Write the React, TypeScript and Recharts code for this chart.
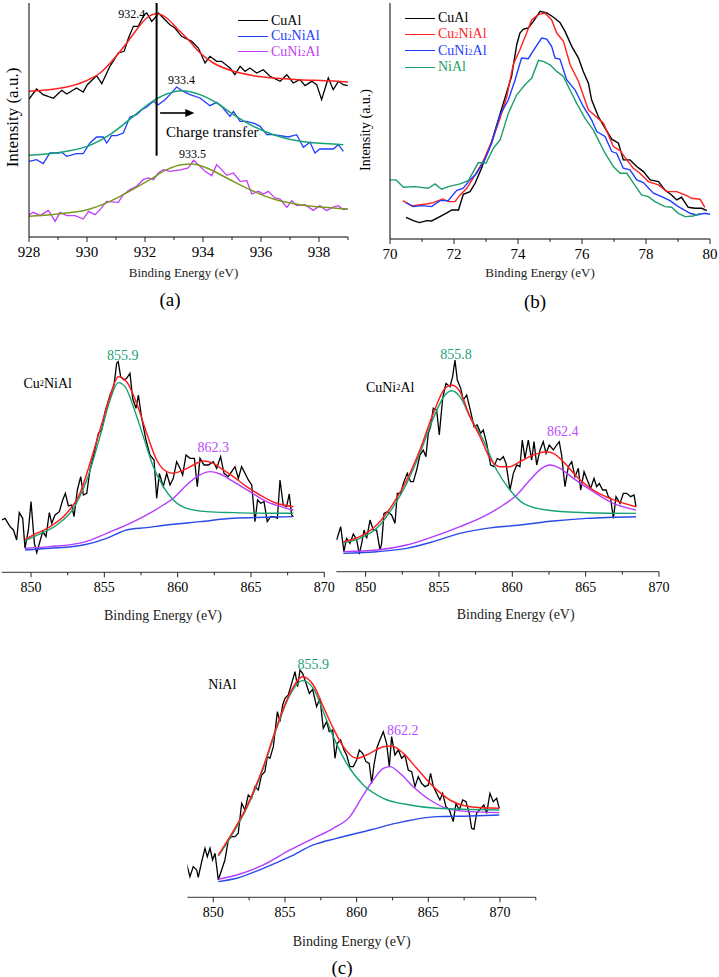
import React from 'react';
import { LineChart, Line, XAxis, YAxis, Legend, ReferenceLine, ReferenceDot } from 'recharts';

const FONT = 'Liberation Serif, Tinos, Times New Roman, DejaVu Serif, serif';

type Pt = [number, number];

// ---------- (a) Cu 2p, binding energy (eV) / intensity (a.u.) ----------
const aCuAl: Pt[] = [
  [928.0, 414], [928.26, 444], [928.49, 427], [928.84, 416], [929.13, 440], [929.3, 429], [929.64, 447],
  [929.87, 435], [930.01, 457], [930.33, 484], [930.51, 460], [930.79, 512], [931.08, 552], [931.28, 557],
  [931.43, 597], [931.6, 632], [931.77, 632], [931.97, 667], [932.06, 672], [932.23, 647], [932.34, 657],
  [932.46, 672], [932.63, 657], [932.86, 637], [933.03, 627], [933.26, 602], [933.61, 587], [933.84, 567],
  [934.07, 522], [934.24, 542], [934.47, 527], [934.64, 527], [934.93, 507], [935.1, 487], [935.28, 512],
  [935.45, 497], [935.62, 507], [935.85, 492], [936.08, 502], [936.31, 482], [936.66, 467], [936.89, 487],
  [937.11, 462], [937.34, 472], [937.52, 454], [937.75, 467], [937.92, 457], [938.09, 412], [938.32, 477],
  [938.49, 442], [938.67, 467], [938.84, 457], [938.99, 454],
];
const aCuAlFit: Pt[] = [
  [928, 437], [929.3, 450], [930, 470], [930.45, 492], [930.9, 532], [931.37, 582], [931.71, 622],
  [932.06, 657], [932.4, 670], [932.75, 657], [933.09, 627], [933.44, 597], [933.9, 552], [934.36, 522],
  [935.05, 497], [935.74, 484], [936.54, 476], [937.34, 472], [938.49, 468], [939, 465],
];
const aCu2NiAl: Pt[] = [
  [928.0, 227], [928.26, 232], [928.49, 220], [928.72, 252], [929.01, 252], [929.13, 254], [929.3, 242],
  [929.64, 250], [929.87, 250], [930.1, 282], [930.33, 300], [930.56, 300], [930.68, 282], [930.85, 304],
  [931.02, 304], [931.25, 312], [931.48, 360], [931.71, 367], [931.89, 382], [932.06, 390], [932.29, 407],
  [932.46, 397], [932.69, 412], [932.86, 427], [933.09, 450], [933.32, 437], [933.55, 427], [933.9, 417],
  [934.24, 394], [934.47, 404], [934.64, 392], [934.93, 362], [935.05, 377], [935.28, 347], [935.51, 347],
  [935.79, 340], [935.97, 332], [936.2, 307], [936.43, 307], [936.66, 304], [936.94, 300], [937.23, 307],
  [937.46, 269], [937.69, 284], [937.86, 252], [938.03, 264], [938.32, 264], [938.49, 264], [938.67, 277],
  [938.84, 257],
];
const aCu2NiAlFit: Pt[] = [
  [928, 245], [929.3, 257], [930.01, 272], [930.79, 307], [931.6, 362], [932.17, 402], [932.75, 429],
  [933.26, 439], [933.9, 427], [934.47, 402], [935.05, 367], [935.74, 332], [936.43, 307], [937.34, 287],
  [938.49, 279], [938.84, 277],
];
const aCuNi2Al: Pt[] = [
  [928.0, 67], [928.15, 74], [928.38, 64], [928.67, 80], [928.9, 47], [929.07, 74], [929.3, 64], [929.59, 64],
  [929.87, 54], [930.05, 77], [930.28, 67], [930.45, 82], [930.68, 107], [931.08, 104], [931.25, 127],
  [931.48, 142], [931.71, 152], [931.94, 172], [932.11, 177], [932.29, 172], [932.46, 192], [932.63, 202],
  [932.86, 197], [933.09, 200], [933.26, 202], [933.49, 207], [933.67, 230], [933.9, 212], [934.07, 197],
  [934.3, 184], [934.47, 217], [934.64, 202], [934.82, 185], [935.05, 192], [935.28, 167], [935.51, 169],
  [935.68, 129], [935.91, 137], [936.08, 129], [936.25, 137], [936.48, 117], [936.66, 114], [936.89, 89],
  [937.06, 109], [937.23, 94], [937.52, 97], [937.8, 80], [938.03, 94], [938.26, 79], [938.49, 90],
  [938.67, 94], [938.84, 82], [938.99, 84],
];
const aCuNi2AlFit: Pt[] = [
  [928, 62], [929.3, 72], [930.01, 82], [930.79, 107], [931.6, 144], [932.17, 172], [932.75, 202],
  [933.26, 217], [933.61, 219], [934.13, 207], [934.82, 177], [935.62, 142], [936.43, 114], [937.34, 97],
  [938.49, 87], [939, 84],
];
const aTicks = [928, 929, 930, 931, 932, 933, 934, 935, 936, 937, 938, 939];
const aSamples = ['CuAl', 'Cu2NiAl', 'CuNi2Al'];

// ---------- (b) Al 2p ----------
const bCuAl: Pt[] = [
  [70.5, 65], [70.73, 55], [70.92, 49], [71.15, 55], [71.3, 54], [71.56, 67], [71.79, 79], [71.93, 87],
  [72.14, 87], [72.29, 134], [72.5, 142], [72.66, 167], [72.86, 212], [72.97, 242], [73.18, 292],
  [73.39, 359], [73.59, 422], [73.8, 487], [73.96, 582], [74.06, 617], [74.17, 629], [74.32, 632],
  [74.48, 652], [74.69, 682], [74.9, 677], [75.1, 665], [75.31, 649], [75.47, 622], [75.68, 577],
  [75.89, 542], [76.04, 502], [76.2, 467], [76.3, 417], [76.51, 367], [76.72, 332], [76.93, 299],
  [77.14, 287], [77.29, 237], [77.5, 237], [77.71, 217], [77.92, 202], [78.13, 177], [78.39, 172],
  [78.59, 147], [78.8, 132], [78.96, 117], [79.11, 125], [79.32, 95], [79.53, 92], [79.74, 92], [79.9, 85],
];
const bCu2NiAl: Pt[] = [
  [70.4, 115], [70.68, 99], [70.89, 102], [71.15, 105], [71.35, 109], [71.65, 120], [71.82, 112],
  [72.03, 112], [72.19, 132], [72.4, 152], [72.66, 192], [72.92, 235], [73.18, 292], [73.44, 362],
  [73.65, 427], [73.85, 522], [74.06, 567], [74.27, 617], [74.43, 657], [74.64, 672], [74.84, 677],
  [75.05, 657], [75.21, 617], [75.42, 592], [75.63, 522], [75.89, 472], [76.2, 387], [76.41, 369],
  [76.67, 347], [76.98, 277], [77.19, 265], [77.4, 237], [77.6, 212], [77.81, 197], [78.07, 172],
  [78.39, 162], [78.65, 142], [78.96, 142], [79.22, 132], [79.43, 122], [79.69, 119], [79.84, 95],
];
const bCuNi2Al: Pt[] = [
  [70.5, 109], [70.73, 97], [70.99, 100], [71.3, 97], [71.56, 115], [71.82, 115], [72.08, 145],
  [72.29, 152], [72.5, 177], [72.71, 197], [72.97, 239], [73.18, 287], [73.44, 372], [73.7, 417],
  [73.91, 477], [74.11, 542], [74.32, 540], [74.53, 572], [74.74, 602], [74.9, 599], [75.05, 577],
  [75.16, 542], [75.31, 539], [75.52, 477], [75.78, 447], [76.04, 397], [76.3, 357], [76.46, 322],
  [76.72, 307], [76.93, 262], [77.08, 257], [77.29, 212], [77.5, 207], [77.71, 177], [77.92, 169],
  [78.23, 137], [78.49, 127], [78.75, 115], [79.01, 97], [79.38, 77], [79.58, 72], [79.84, 77], [80.0, 74],
];
const bNiAl: Pt[] = [
  [70.0, 177], [70.19, 177], [70.42, 155], [70.78, 157], [71.2, 152], [71.41, 165], [71.61, 149],
  [71.82, 157], [72.19, 165], [72.45, 175], [72.76, 229], [73.0, 227], [73.23, 272], [73.44, 297],
  [73.7, 377], [73.96, 432], [74.22, 462], [74.43, 482], [74.64, 535], [74.79, 532], [75.0, 522],
  [75.21, 502], [75.42, 487], [75.57, 457], [75.83, 407], [76.09, 362], [76.35, 327], [76.51, 297],
  [76.72, 257], [76.98, 217], [77.19, 197], [77.4, 197], [77.66, 160], [77.86, 132], [78.07, 127],
  [78.28, 112], [78.59, 97], [78.8, 95], [79.01, 77], [79.22, 67], [79.48, 69], [79.69, 77],
];
const bTicks = [70, 71, 72, 73, 74, 75, 76, 77, 78, 79, 80];
const bSamples = ['CuAl', 'Cu2NiAl', 'CuNi2Al', 'NiAl'];

// ---------- (c) Ni 2p, Cu2NiAl ----------
const c1Raw: Pt[] = [
  [848.0, 157], [848.23, 162], [848.57, 137], [848.8, 127], [849.02, 97], [849.2, 179], [849.43, 162],
  [849.59, 72], [849.82, 127], [850.0, 212], [850.23, 87], [850.39, 59], [850.57, 87], [850.8, 122],
  [851.02, 107], [851.25, 179], [851.41, 147], [851.64, 172], [851.93, 182], [852.16, 217], [852.34, 237],
  [852.55, 199], [852.77, 202], [852.93, 167], [853.16, 247], [853.39, 287], [853.57, 232], [853.8, 237],
  [854.02, 307], [854.3, 357], [854.59, 417], [854.82, 427], [855.05, 482], [855.39, 532], [855.66, 562],
  [855.84, 627], [855.95, 632], [856.11, 587], [856.34, 577], [856.52, 582], [856.75, 597], [856.93, 522],
  [857.16, 492], [857.32, 532], [857.55, 462], [857.84, 397], [858.11, 352], [858.39, 337], [858.57, 222],
  [858.75, 297], [859.02, 257], [859.25, 297], [859.48, 262], [859.7, 282], [859.93, 332], [860.16, 312],
  [860.34, 292], [860.57, 352], [860.84, 342], [861.14, 342], [861.34, 257], [861.52, 342], [861.8, 322],
  [862.09, 322], [862.43, 332], [862.66, 312], [862.93, 347], [863.16, 297], [863.45, 287], [863.68, 302],
  [863.91, 317], [864.14, 282], [864.36, 317], [864.59, 297], [864.82, 277], [865.05, 262], [865.27, 152],
  [865.45, 217], [865.66, 207], [865.89, 212], [866.11, 152], [866.34, 167], [866.57, 167], [866.8, 162],
  [866.98, 277], [867.2, 202], [867.43, 197], [867.61, 235], [867.77, 172], [867.89, 167],
];
const c1Env: Pt[] = [
  [849.59, 99], [850.16, 112], [851.3, 137], [852.43, 177], [853.34, 237], [854.02, 327], [854.7, 427],
  [855.39, 527], [855.95, 587], [856.52, 572], [857.2, 507], [857.89, 417], [858.57, 337], [859.25, 302],
  [859.7, 297], [860.39, 307], [861.07, 322], [861.75, 334], [862.43, 327], [863.11, 307], [863.8, 287],
  [864.7, 257], [865.61, 232], [866.75, 207], [867.89, 197],
];
const c1Main: Pt[] = [
  [849.59, 95], [850.61, 115], [851.75, 142], [852.89, 192], [853.8, 277], [854.7, 407], [855.39, 517],
  [855.95, 569], [856.41, 557], [856.98, 497], [857.66, 407], [858.34, 317], [859.02, 257], [859.7, 217],
  [860.61, 192], [861.98, 182], [863.8, 179], [866.07, 177], [867.89, 177],
];
const c1Sat: Pt[] = [
  [849.59, 72], [851.3, 77], [853.57, 90], [855.16, 117], [856.52, 142], [857.89, 172], [859.02, 202],
  [859.7, 222], [860.61, 262], [861.52, 292], [862.2, 302], [862.89, 295], [863.8, 272], [864.93, 242],
  [866.07, 212], [867.2, 195], [867.89, 187],
];
const c1Base: Pt[] = [
  [849.59, 67], [851.3, 72], [853.57, 82], [855.16, 102], [856.52, 127], [857.89, 134], [859.25, 142],
  [861.52, 152], [863.8, 162], [866.07, 165], [867.89, 167],
];

// ---------- (c) Ni 2p, CuNi2Al ----------
const c2Raw: Pt[] = [
  [848.02, 95], [848.3, 135], [848.52, 60], [848.7, 100], [848.93, 85], [849.16, 113], [849.39, 95],
  [849.57, 53], [849.73, 85], [849.89, 125], [850.07, 100], [850.3, 155], [850.52, 125], [850.75, 125],
  [850.98, 65], [851.09, 85], [851.25, 175], [851.48, 180], [851.77, 170], [852.0, 145], [852.16, 235],
  [852.39, 235], [852.57, 265], [852.84, 295], [853.07, 270], [853.25, 270], [853.48, 305], [853.7, 350],
  [853.93, 365], [854.11, 345], [854.27, 415], [854.43, 435], [854.61, 490], [854.84, 485], [855.02, 410],
  [855.25, 520], [855.48, 565], [855.75, 555], [855.93, 585], [856.09, 635], [856.25, 575], [856.48, 550],
  [856.66, 515], [856.89, 530], [857.16, 480], [857.39, 435], [857.61, 440], [857.84, 415], [858.02, 425],
  [858.25, 385], [858.52, 320], [858.75, 315], [858.98, 340], [859.16, 335], [859.39, 345], [859.57, 325],
  [859.84, 245], [860.07, 295], [860.3, 320], [860.52, 315], [860.68, 395], [860.86, 340], [861.09, 395],
  [861.32, 335], [861.48, 390], [861.66, 320], [861.89, 365], [862.11, 390], [862.3, 355], [862.52, 380],
  [862.8, 365], [863.02, 380], [863.2, 390], [863.36, 350], [863.59, 255], [863.82, 315], [864.05, 330],
  [864.27, 285], [864.5, 310], [864.66, 245], [864.89, 300], [865.11, 275], [865.34, 250], [865.57, 280],
  [865.75, 255], [865.93, 265], [866.16, 245], [866.39, 245], [866.55, 225], [866.7, 220], [866.89, 160],
  [867.07, 225], [867.34, 205], [867.57, 235], [867.8, 235], [868.07, 225], [868.3, 230], [868.43, 195],
];
const c2Env: Pt[] = [
  [848.48, 90], [849.61, 105], [850.75, 140], [851.89, 205], [852.8, 275], [853.7, 365], [854.61, 475],
  [855.41, 550], [855.86, 560], [856.43, 540], [857.11, 465], [857.8, 405], [858.48, 340], [859.16, 315],
  [859.84, 315], [860.52, 330], [861.43, 350], [862.34, 360], [862.8, 355], [863.48, 330], [864.39, 285],
  [865.52, 245], [866.66, 220], [868.43, 195],
];
const c2Main: Pt[] = [
  [848.48, 87], [849.61, 100], [850.75, 130], [851.89, 195], [852.8, 265], [853.7, 355], [854.61, 460],
  [855.41, 530], [855.86, 543], [856.43, 525], [857.11, 465], [858.02, 395], [858.93, 305], [859.84, 245],
  [860.75, 205], [862.34, 185], [865.07, 177], [868.43, 175],
];
const c2Sat: Pt[] = [
  [848.48, 60], [850.75, 65], [852.8, 80], [854.61, 105], [856.43, 135], [858.02, 165], [859.39, 200],
  [860.3, 230], [861.2, 275], [862.0, 310], [862.57, 320], [863.25, 310], [864.16, 280], [865.52, 240],
  [866.89, 205], [868.43, 185],
];
const c2Base: Pt[] = [
  [848.48, 55], [850.75, 60], [852.8, 70], [854.61, 90], [856.43, 115], [858.25, 130], [860.52, 140],
  [862.8, 152], [865.07, 160], [868.43, 165],
];

// ---------- (c) Ni 2p, NiAl ----------
const c3Raw: Pt[] = [
  [848.14, 100], [848.37, 62], [848.6, 92], [848.84, 82], [848.95, 60], [849.19, 107], [849.42, 147],
  [849.58, 122], [849.77, 147], [849.95, 112], [850.12, 132], [850.23, 94], [850.35, 52], [850.58, 82],
  [850.81, 112], [851.05, 172], [851.28, 182], [851.51, 182], [851.74, 192], [851.98, 282], [852.21, 262],
  [852.44, 307], [852.67, 297], [852.91, 332], [853.14, 322], [853.37, 367], [853.6, 377], [853.77, 422],
  [853.95, 417], [854.19, 452], [854.47, 557], [854.65, 527], [854.84, 577], [855.0, 597], [855.23, 607],
  [855.47, 642], [855.7, 677], [855.88, 632], [856.05, 682], [856.23, 672], [856.47, 642], [856.7, 612],
  [856.93, 624], [857.21, 572], [857.44, 597], [857.67, 507], [857.91, 527], [858.09, 497], [858.33, 502],
  [858.49, 417], [858.65, 462], [858.88, 472], [859.12, 442], [859.3, 427], [859.53, 392], [859.77, 392],
  [860.0, 412], [860.19, 442], [860.42, 432], [860.65, 407], [860.88, 402], [861.05, 342], [861.21, 397],
  [861.44, 452], [861.67, 477], [861.86, 497], [862.09, 462], [862.28, 392], [862.44, 482], [862.67, 427],
  [862.91, 442], [863.14, 417], [863.37, 427], [863.6, 382], [863.84, 377], [864.07, 332], [864.3, 362],
  [864.53, 342], [864.77, 332], [865.0, 337], [865.16, 372], [865.35, 332], [865.58, 312], [865.81, 292],
  [866.0, 312], [866.23, 272], [866.47, 262], [866.74, 227], [866.93, 282], [867.16, 262], [867.4, 292],
  [867.63, 287], [867.86, 252], [868.02, 207], [868.19, 204], [868.37, 252], [868.65, 267], [868.88, 277],
  [869.07, 252], [869.3, 312], [869.53, 287], [869.77, 297], [869.95, 267],
];
const c3Env: Pt[] = [
  [850.35, 127], [851.16, 182], [852.33, 272], [853.49, 392], [854.42, 512], [855.35, 612], [856.23, 662],
  [856.98, 637], [857.67, 572], [858.37, 507], [859.07, 452], [860.0, 417], [860.93, 432], [861.86, 452],
  [862.44, 454], [863.26, 432], [864.19, 387], [865.35, 332], [866.51, 292], [867.91, 272], [869.95, 267],
];
const c3Main: Pt[] = [
  [850.35, 124], [851.16, 177], [852.33, 267], [853.49, 387], [854.42, 507], [855.35, 607], [856.23, 650],
  [856.98, 627], [857.67, 557], [858.37, 482], [859.3, 402], [860.47, 337], [861.86, 297], [863.72, 277],
  [865.58, 267], [869.95, 262],
];
const c3Sat: Pt[] = [
  [850.35, 54], [851.63, 67], [853.49, 97], [855.35, 142], [856.98, 177], [858.37, 207], [859.53, 242],
  [860.47, 307], [861.16, 352], [861.86, 387], [862.33, 392], [863.02, 372], [863.95, 332], [865.12, 292],
  [866.28, 267], [867.91, 257], [869.95, 254],
];
const c3Base: Pt[] = [
  [850.35, 47], [851.63, 57], [853.49, 87], [855.35, 122], [856.98, 157], [858.6, 177], [860.93, 202],
  [863.26, 227], [865.58, 242], [867.91, 244], [869.95, 247],
];
const cTicks1 = [850, 852.5, 855, 857.5, 860, 862.5, 865, 867.5, 870];
const cTicks3 = [850, 852.5, 855, 857.5, 860, 862.5, 865, 867.5, 870, 872.5];

const RED = '#ff1f1f';
const GREEN = '#17a274';
const PURPLE = '#b43cff';
const BLUE = '#1f3dff';

const pts = (arr: Pt[]) => arr.map(([e, i]) => ({ e, i }));

// subscripts in sample names (Cu2NiAl -> Cu₂NiAl)
function chemHtml(name: string) {
  return name.split(/(\d)/).filter(Boolean).map((p, k) =>
    /\d/.test(p) ? <span key={k} style={{ fontSize: '0.6em' }}>{p}</span> : <span key={k}>{p}</span>
  );
}
function chemSvg(name: string, size: number) {
  return name.split(/(\d)/).filter(Boolean).map((p, k) =>
    /\d/.test(p) ? <tspan key={k} fontSize={size * 0.6}>{p}</tspan> : <tspan key={k}>{p}</tspan>
  );
}

function makeTick(step: number, size: number, gap: number) {
  return (props: any) => {
    const { x, y, payload } = props;
    const major = Math.abs(payload.value / step - Math.round(payload.value / step)) < 1e-6;
    return (
      <g>
        <line x1={x} y1={y} x2={x} y2={y + (major ? 5 : 3)} stroke="#222" strokeWidth={1} />
        {major && (
          <text x={x} y={y + gap} textAnchor="middle" fontSize={size} fontFamily={FONT} fill="#000">
            {payload.value}
          </text>
        )}
      </g>
    );
  };
}

const xLabel = (dx: number, base: number, size: number) => (props: any) => {
  const vb = props.viewBox;
  return (
    <text x={vb.x + vb.width / 2 + dx} y={vb.y + base} textAnchor="middle" fontSize={size} fontFamily={FONT} fill="#222">
      Binding Energy (eV)
    </text>
  );
};

const yLabel = (x: number, dy: number, size: number) => (props: any) => {
  const vb = props.viewBox;
  const cy = vb.y + vb.height / 2 + dy;
  return (
    <text x={x} y={cy} transform={`rotate(-90 ${x} ${cy})`} textAnchor="middle" dominantBaseline="central"
      fontSize={size} fontFamily={FONT} fill="#000">
      Intensity (a.u.)
    </text>
  );
};

const textShape = (text: string, size: number, color: string, anchor: string = 'middle', chem = false) =>
  (props: any) => (
    <text x={props.cx} y={props.cy} textAnchor={anchor} dominantBaseline="central" fontSize={size}
      fontFamily={FONT} fill={color}>
      {chem ? chemSvg(text, size) : text}
    </text>
  );

// only the measured series, in the order given
const legendContent = (order: string[], rowH: number) => (props: any) => {
  const items = (props.payload || [])
    .filter((p: any) => order.includes(p.value))
    .sort((a: any, b: any) => order.indexOf(a.value) - order.indexOf(b.value));
  return (
    <div style={{ fontFamily: FONT, fontSize: 14 }}>
      {items.map((p: any) => (
        <div key={p.value} style={{ display: 'flex', alignItems: 'center', height: rowH, color: p.color }}>
          <span style={{ display: 'inline-block', width: 30, borderTop: `1.5px solid ${p.color}`, marginRight: 3 }} />
          <span>{chemHtml(p.value)}</span>
        </div>
      ))}
    </div>
  );
};

const lineProps = { dot: false, isAnimationActive: false, activeDot: false } as const;

function PanelA() {
  return (
    <LineChart width={360} height={320} margin={{ top: 3, right: 12, bottom: 43, left: 0 }}>
      <XAxis dataKey="e" type="number" domain={[928, 939]} allowDataOverflow ticks={aTicks} interval={0}
        height={40} tickSize={0} tickMargin={0} tickLine={false} axisLine={{ stroke: '#000' }}
        tick={makeTick(2, 15, 20)} label={xLabel(-5, 39.5, 13)} />
      <XAxis xAxisId="top" orientation="top" dataKey="e" type="number" domain={[928, 939]} height={0}
        tick={false} tickLine={false} axisLine={{ stroke: '#000' }} />
      <YAxis dataKey="i" type="number" domain={[0, 702]} allowDataOverflow width={29} tick={false}
        tickLine={false} axisLine={{ stroke: '#000' }} label={yLabel(12, -2.5, 17)} />
      <YAxis yAxisId="right" orientation="right" type="number" domain={[0, 702]} width={0} tick={false}
        tickLine={false} axisLine={{ stroke: '#000' }} />
      <Line data={pts(aCuAl)} dataKey="i" name="CuAl" type="linear" stroke="#000" strokeWidth={1.3} {...lineProps} />
      <Line data={pts(aCuAlFit)} dataKey="i" name="CuAl fit" type="monotone" stroke={RED} strokeWidth={1.5} legendType="none" {...lineProps} />
      <Line data={pts(aCu2NiAl)} dataKey="i" name="Cu2NiAl" type="linear" stroke={BLUE} strokeWidth={1.3} {...lineProps} />
      <Line data={pts(aCu2NiAlFit)} dataKey="i" name="Cu2NiAl fit" type="monotone" stroke={GREEN} strokeWidth={1.5} legendType="none" {...lineProps} />
      <Line data={pts(aCuNi2Al)} dataKey="i" name="CuNi2Al" type="linear" stroke="#c23cf5" strokeWidth={1.3} {...lineProps} />
      <Line data={pts(aCuNi2AlFit)} dataKey="i" name="CuNi2Al fit" type="monotone" stroke="#7a9a1e" strokeWidth={1.5} legendType="none" {...lineProps} />
      <ReferenceLine segment={[{ x: 932.4, y: 702 }, { x: 932.4, y: 244 }]} stroke="#000" strokeWidth={2} />
      <ReferenceLine segment={[{ x: 932.52, y: 372 }, { x: 933.45, y: 372 }]} stroke="#000" strokeWidth={1.6} />
      <ReferenceDot x={933.7} y={372} r={0}
        shape={(p: any) => <polygon points={`${p.cx},${p.cy} ${p.cx - 9},${p.cy - 4} ${p.cx - 9},${p.cy + 4}`} fill="#000" />} />
      <ReferenceDot x={934.32} y={314} r={0} shape={textShape('Charge transfer', 15, '#000')} />
      <ReferenceDot x={931.54} y={670} r={0} shape={textShape('932.4', 12, '#000')} />
      <ReferenceDot x={933.26} y={472} r={0} shape={textShape('933.4', 12, '#000')} />
      <ReferenceDot x={933.64} y={250} r={0} shape={textShape('933.5', 12, '#000')} />
      <Legend layout="vertical" align="center" verticalAlign="middle" content={legendContent(aSamples, 15.5)}
        wrapperStyle={{ left: 238, top: 13, width: 110 }} />
    </LineChart>
  );
}

function PanelB() {
  return (
    <LineChart width={369} height={320} margin={{ top: 3, right: 9, bottom: 41, left: 0 }}>
      <XAxis dataKey="e" type="number" domain={[70, 80]} allowDataOverflow ticks={bTicks} interval={0}
        height={40} tickSize={0} tickMargin={0} tickLine={false} axisLine={{ stroke: '#000' }}
        tick={makeTick(2, 15, 20)} label={xLabel(-10, 38, 13)} />
      <XAxis xAxisId="top" orientation="top" dataKey="e" type="number" domain={[70, 80]} height={0}
        tick={false} tickLine={false} axisLine={{ stroke: '#000' }} />
      <YAxis dataKey="i" type="number" domain={[0, 707]} allowDataOverflow width={40} tick={false}
        tickLine={false} axisLine={{ stroke: '#000' }} label={yLabel(15, 9, 14)} />
      <YAxis yAxisId="right" orientation="right" type="number" domain={[0, 707]} width={0} tick={false}
        tickLine={false} axisLine={{ stroke: '#000' }} />
      <Line data={pts(bCuAl)} dataKey="i" name="CuAl" type="linear" stroke="#000" strokeWidth={1.4} {...lineProps} />
      <Line data={pts(bCu2NiAl)} dataKey="i" name="Cu2NiAl" type="linear" stroke={RED} strokeWidth={1.4} {...lineProps} />
      <Line data={pts(bCuNi2Al)} dataKey="i" name="CuNi2Al" type="linear" stroke={BLUE} strokeWidth={1.4} {...lineProps} />
      <Line data={pts(bNiAl)} dataKey="i" name="NiAl" type="linear" stroke="#1e9e6a" strokeWidth={1.4} {...lineProps} />
      <Legend layout="vertical" align="center" verticalAlign="middle" content={legendContent(bSamples, 16.3)}
        wrapperStyle={{ left: 55, top: 10, width: 110 }} />
    </LineChart>
  );
}

interface NiPanelProps {
  width: number;
  height: number;
  margin: { top: number; right: number; bottom: number; left: number };
  domain: [number, number];
  yMax: number;
  ticks: number[];
  labelDx: number;
  labelBase: number;
  raw: Pt[];
  env: Pt[];
  main: Pt[];
  sat: Pt[];
  base: Pt[];
  sample: { name: string; e: number; i: number };
  mainPeak: { text: string; e: number; i: number };
  satPeak: { text: string; e: number; i: number };
}

function NiPanel(p: NiPanelProps) {
  return (
    <LineChart width={p.width} height={p.height} margin={p.margin}>
      <XAxis dataKey="e" type="number" domain={p.domain} allowDataOverflow ticks={p.ticks} interval={0}
        height={50} tickSize={0} tickMargin={0} tickLine={false} axisLine={{ stroke: '#333' }}
        tick={makeTick(5, 14, 20)} label={xLabel(p.labelDx, p.labelBase, 14)} />
      <YAxis hide type="number" domain={[0, p.yMax]} allowDataOverflow />
      <Line data={pts(p.raw)} dataKey="i" name="raw" type="linear" stroke="#000" strokeWidth={1.3} {...lineProps} />
      <Line data={pts(p.base)} dataKey="i" name="background" type="monotone" stroke="#2b4ae8" strokeWidth={1.4} {...lineProps} />
      <Line data={pts(p.sat)} dataKey="i" name="satellite" type="monotone" stroke={PURPLE} strokeWidth={1.4} {...lineProps} />
      <Line data={pts(p.main)} dataKey="i" name="Ni 2p3/2" type="monotone" stroke={GREEN} strokeWidth={1.4} {...lineProps} />
      <Line data={pts(p.env)} dataKey="i" name="envelope" type="monotone" stroke={RED} strokeWidth={1.5} {...lineProps} />
      <ReferenceDot x={p.sample.e} y={p.sample.i} r={0} shape={textShape(p.sample.name, 14, '#000', 'start', true)} />
      <ReferenceDot x={p.mainPeak.e} y={p.mainPeak.i} r={0} shape={textShape(p.mainPeak.text, 14, '#1aa078')} />
      <ReferenceDot x={p.satPeak.e} y={p.satPeak.i} r={0} shape={textShape(p.satPeak.text, 14, '#b84dff')} />
    </LineChart>
  );
}

const captionStyle: React.CSSProperties = {
  position: 'absolute', fontFamily: FONT, fontSize: 19, width: 40, textAlign: 'center', lineHeight: '20px',
};

export default function App() {
  return (
    <div style={{ position: 'absolute', left: 0, top: 0, width: 719, height: 977, background: '#fff', overflow: 'hidden', fontFamily: FONT }}>
      <div style={{ position: 'absolute', left: 0, top: 0 }}>
        <PanelA />
      </div>
      <div style={{ position: 'absolute', left: 350, top: 0 }}>
        <PanelB />
      </div>
      <div style={{ position: 'absolute', left: 0, top: 330 }}>
        <NiPanel width={345} height={300} margin={{ top: 0, right: 20.7, bottom: 7.7, left: 1.7 }}
          domain={[848, 870]} yMax={727} ticks={cTicks1} labelDx={0} labelBase={47.5}
          raw={c1Raw} env={c1Env} main={c1Main} sat={c1Sat} base={c1Base}
          sample={{ name: 'Cu2NiAl', e: 849.48, i: 567 }}
          mainPeak={{ text: '855.9', e: 856.25, i: 649 }}
          satPeak={{ text: '862.3', e: 862.43, i: 375 }} />
      </div>
      <div style={{ position: 'absolute', left: 330, top: 330 }}>
        <NiPanel width={350} height={300} margin={{ top: 0, right: 21, bottom: 8.3, left: 6.3 }}
          domain={[848, 870]} yMax={725} ticks={cTicks1} labelDx={18} labelBase={47.5}
          raw={c2Raw} env={c2Env} main={c2Main} sat={c2Sat} base={c2Base}
          sample={{ name: 'CuNi2Al', e: 850.02, i: 553 }}
          mainPeak={{ text: '855.8', e: 856.16, i: 653 }}
          satPeak={{ text: '862.4', e: 863.43, i: 420 }} />
      </div>
      <div style={{ position: 'absolute', left: 170, top: 640 }}>
        <NiPanel width={380} height={320} margin={{ top: 0, right: 14.2, bottom: 12.7, left: 17.5 }}
          domain={[848.2, 872.5]} yMax={772} ticks={cTicks3} labelDx={-10} labelBase={49}
          raw={c3Raw} env={c3Env} main={c3Main} sat={c3Sat} base={c3Base}
          sample={{ name: 'NiAl', e: 849.65, i: 639 }}
          mainPeak={{ text: '855.9', e: 856.98, i: 697 }}
          satPeak={{ text: '862.2', e: 863.21, i: 500 }} />
      </div>
      <div style={{ ...captionStyle, left: 150, top: 290 }}>(a)</div>
      <div style={{ ...captionStyle, left: 515, top: 292 }}>(b)</div>
      <div style={{ ...captionStyle, left: 322, top: 958 }}>(c)</div>
    </div>
  );
}
